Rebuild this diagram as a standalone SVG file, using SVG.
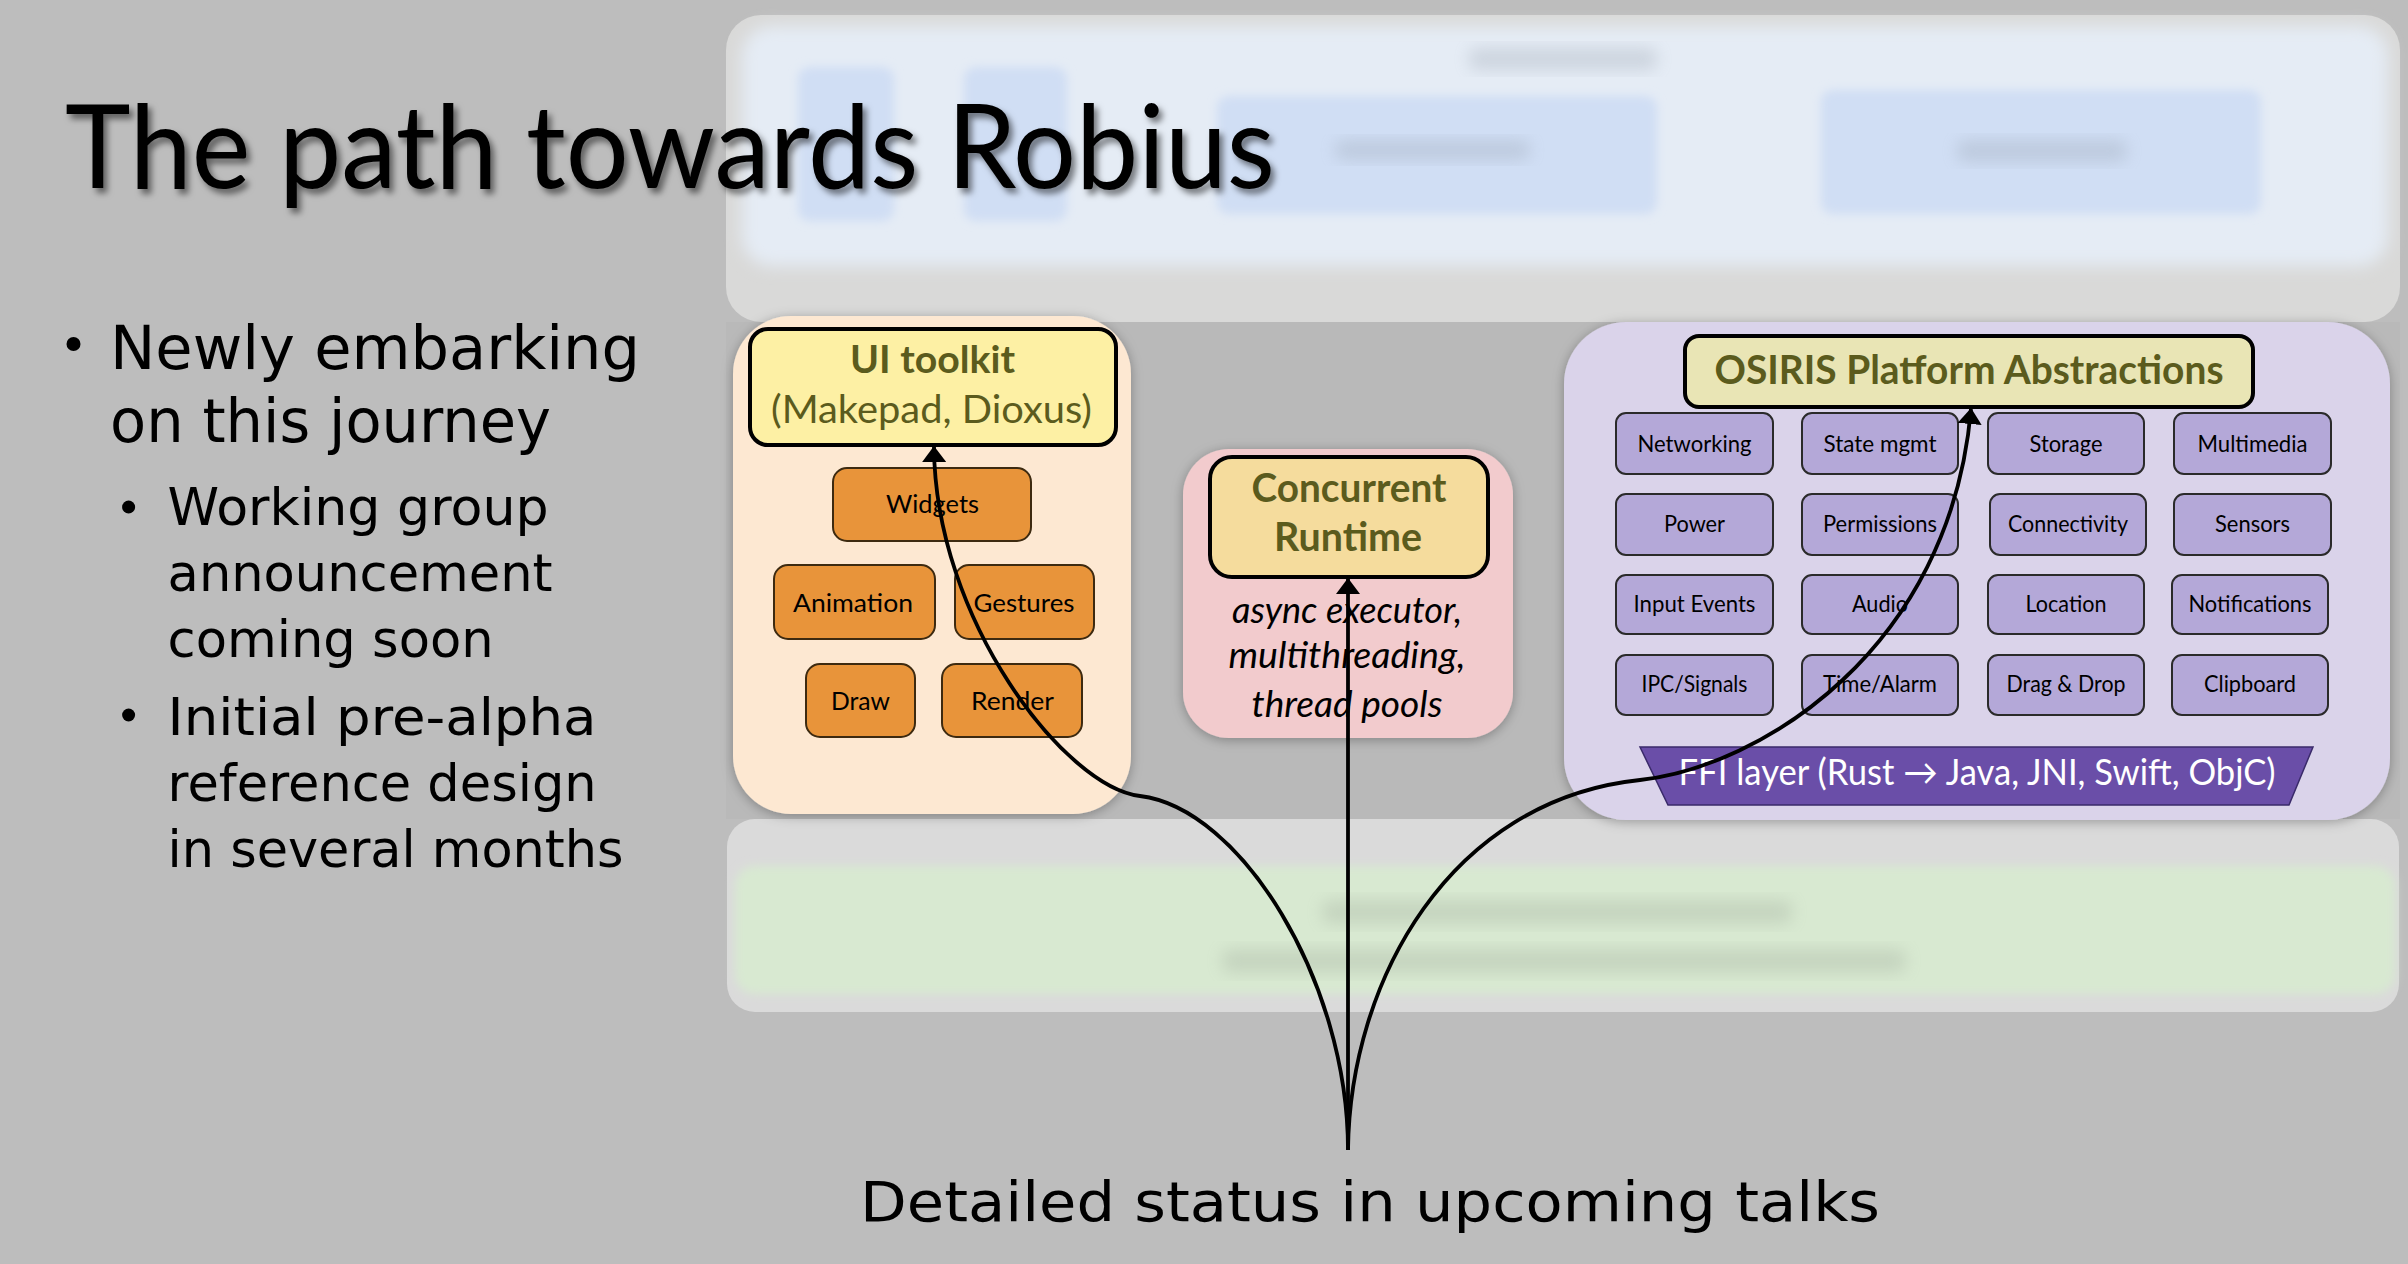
<svg xmlns="http://www.w3.org/2000/svg" width="2408" height="1264" viewBox="0 0 2408 1264">
<defs>
<style>
.title{font-family:Lato,"Liberation Sans",sans-serif;font-size:116px;fill:#000}
.bul{font-family:"DejaVu Sans","Liberation Sans",sans-serif;fill:#000}
.b1{font-size:60px}
.b2{font-size:51px}
.hdr{font-family:Lato,"Liberation Sans",sans-serif;font-weight:700;fill:#5b5b1d;text-anchor:middle}
.hdrn{font-family:Lato,"Liberation Sans",sans-serif;fill:#5b5b1d;text-anchor:middle}
.sub{font-family:Lato,"Liberation Sans",sans-serif;font-size:25px;fill:#000;text-anchor:middle}
.cell{font-family:Lato,"Liberation Sans",sans-serif;font-size:23px;fill:#000;text-anchor:middle}
.ital{font-family:Lato,"Liberation Sans",sans-serif;font-style:italic;font-size:37px;fill:#000;text-anchor:middle}
.ffi{font-family:Lato,"Liberation Sans",sans-serif;font-size:36px;fill:#fff;text-anchor:middle}
.orange{fill:#e8943a;stroke:#3d2a10;stroke-width:2}
.grid{fill:#b4a8d8;stroke:#2a2a2a;stroke-width:2}
.hbox{stroke:#000;stroke-width:4}
.conn{fill:none;stroke:#000;stroke-width:3.8;marker-end:url(#arrow)}
.blob{fill:#8e98a6;opacity:0.28}
</style>
<filter id="blur8" x="-10%" y="-30%" width="120%" height="160%"><feGaussianBlur stdDeviation="8"/></filter>
<filter id="blur5" x="-20%" y="-50%" width="140%" height="200%"><feGaussianBlur stdDeviation="5"/></filter>
<filter id="tshadow" x="-5%" y="-20%" width="110%" height="150%"><feDropShadow dx="4" dy="5" stdDeviation="3" flood-color="#000" flood-opacity="0.5"/></filter>
<filter id="cshadow" x="-10%" y="-10%" width="120%" height="120%"><feDropShadow dx="0" dy="2" stdDeviation="6" flood-color="#000" flood-opacity="0.3"/></filter>
<marker id="arrow" markerUnits="userSpaceOnUse" viewBox="0 0 16 24" refX="15" refY="12" markerWidth="16" markerHeight="24" orient="auto">
<path d="M0,0 L16,12 L0,24 z" fill="#000"/>
</marker>
</defs>

<rect x="0" y="0" width="2408" height="1264" fill="#bdbdbd"/>

<g id="backdrop">
<rect x="726" y="322" width="1674" height="497" fill="#b9b9b9"/>
<line x1="1348" y1="322" x2="1348" y2="449" stroke="#a6a6a6" stroke-width="14" filter="url(#blur5)"/>
<line x1="1131" y1="394" x2="1564" y2="394" stroke="#aeaeae" stroke-width="12" filter="url(#blur5)"/>
<line x1="1513" y1="593" x2="1564" y2="593" stroke="#a6a6a6" stroke-width="12" filter="url(#blur5)"/>
</g>

<g id="application-layer">
<rect x="726" y="15" width="1674" height="307" rx="35" fill="#d9d9d8"/>
<rect x="742" y="26" width="1646" height="240" rx="30" fill="#e5ecf5" filter="url(#blur8)"/>
<rect x="798" y="67" width="96" height="154" rx="12" fill="#d0def4" filter="url(#blur5)"/>
<rect x="964" y="67" width="103" height="154" rx="12" fill="#d0def4" filter="url(#blur5)"/>
<rect x="1217" y="96" width="440" height="118" rx="12" fill="#d0def4" filter="url(#blur5)"/>
<rect x="1821" y="90" width="440" height="124" rx="12" fill="#d0def4" filter="url(#blur5)"/>
<rect x="1469" y="48" width="188" height="22" rx="8" class="blob" filter="url(#blur8)"/>
<rect x="1335" y="140" width="195" height="20" rx="8" class="blob" filter="url(#blur8)"/>
<rect x="1957" y="140" width="170" height="22" rx="8" class="blob" filter="url(#blur8)"/>
</g>

<g id="hal-layer">
<rect x="727" y="819" width="1672" height="193" rx="28" fill="#dadada"/>
<rect x="735" y="866" width="1660" height="128" rx="20" fill="#d8e9d1" filter="url(#blur5)"/>
<rect x="1322" y="900" width="470" height="24" rx="8" fill="#8f9a8c" opacity="0.25" filter="url(#blur8)"/>
<rect x="1222" y="949" width="684" height="24" rx="8" fill="#8f9a8c" opacity="0.25" filter="url(#blur8)"/>
</g>

<g id="title">
<text x="65" y="188" class="title" textLength="1210" lengthAdjust="spacingAndGlyphs" filter="url(#tshadow)">The path towards Robius</text>
</g>

<g id="bullets">
<circle cx="73.5" cy="344" r="7" fill="#000"/>
<text x="110" y="369" class="bul b1" textLength="530" lengthAdjust="spacingAndGlyphs">Newly embarking</text>
<text x="110" y="442" class="bul b1" textLength="441" lengthAdjust="spacingAndGlyphs">on this journey</text>
<circle cx="128.6" cy="507" r="6.5" fill="#000"/>
<text x="167.6" y="525" class="bul b2" textLength="381" lengthAdjust="spacingAndGlyphs">Working group</text>
<text x="167.6" y="591" class="bul b2" textLength="385" lengthAdjust="spacingAndGlyphs">announcement</text>
<text x="167.6" y="657" class="bul b2" textLength="326" lengthAdjust="spacingAndGlyphs">coming soon</text>
<circle cx="128.6" cy="715" r="6.5" fill="#000"/>
<text x="167.6" y="735" class="bul b2" textLength="429" lengthAdjust="spacingAndGlyphs">Initial pre-alpha</text>
<text x="167.6" y="801" class="bul b2" textLength="429" lengthAdjust="spacingAndGlyphs">reference design</text>
<text x="167.6" y="867" class="bul b2" textLength="456" lengthAdjust="spacingAndGlyphs">in several months</text>
</g>

<g id="ui-toolkit">
<rect x="733" y="316" width="398" height="498" rx="58" fill="#fde8d2" filter="url(#cshadow)"/>
<rect x="750" y="329" width="366" height="116" rx="18" fill="#fdf0a4" class="hbox"/>
<text x="932.5" y="373" class="hdr" font-size="38" textLength="165" lengthAdjust="spacingAndGlyphs">UI toolkit</text>
<text x="931.5" y="423" class="hdrn" font-size="38" textLength="321" lengthAdjust="spacingAndGlyphs">(Makepad, Dioxus)</text>
<g id="widgets"><rect x="833" y="468" width="198" height="73" rx="14" class="orange"/><text x="932.5" y="513" class="sub" textLength="93" lengthAdjust="spacingAndGlyphs">Widgets</text></g>
<g id="animation"><rect x="774" y="565" width="161" height="74" rx="14" class="orange"/><text x="853" y="612" class="sub" textLength="120" lengthAdjust="spacingAndGlyphs">Animation</text></g>
<g id="gestures"><rect x="955" y="565" width="139" height="74" rx="14" class="orange"/><text x="1024" y="612" class="sub" textLength="101" lengthAdjust="spacingAndGlyphs">Gestures</text></g>
<g id="draw"><rect x="806" y="664" width="109" height="73" rx="14" class="orange"/><text x="860.5" y="710" class="sub" textLength="59" lengthAdjust="spacingAndGlyphs">Draw</text></g>
<g id="render"><rect x="942" y="664" width="140" height="73" rx="14" class="orange"/><text x="1012.5" y="710" class="sub" textLength="83" lengthAdjust="spacingAndGlyphs">Render</text></g>
</g>

<g id="concurrent-runtime">
<rect x="1183" y="449" width="330" height="289" rx="46" fill="#f2cbcd" filter="url(#cshadow)"/>
<rect x="1210" y="457" width="278" height="120" rx="22" fill="#f5dc9d" class="hbox"/>
<text x="1349" y="502" class="hdr" font-size="40" textLength="195" lengthAdjust="spacingAndGlyphs">Concurrent</text>
<text x="1348" y="551" class="hdr" font-size="40" textLength="148" lengthAdjust="spacingAndGlyphs">Runtime</text>
<text x="1347" y="623" class="ital" textLength="230" lengthAdjust="spacingAndGlyphs">async executor,</text>
<text x="1347" y="668" class="ital" textLength="237" lengthAdjust="spacingAndGlyphs">multithreading,</text>
<text x="1347" y="717" class="ital" textLength="191" lengthAdjust="spacingAndGlyphs">thread pools</text>
</g>

<g id="osiris">
<rect x="1564" y="322" width="826" height="498" rx="62" fill="#dad3ea" filter="url(#cshadow)"/>
<rect x="1685" y="336" width="568" height="71" rx="14" fill="#e9e5b5" class="hbox"/>
<text x="1969" y="384" class="hdr" font-size="40" textLength="509" lengthAdjust="spacingAndGlyphs">OSIRIS Platform Abstractions</text>
<g id="networking"><rect x="1616" y="413" width="157" height="61" rx="10" class="grid"/><text x="1694.5" y="452" class="cell" textLength="114" lengthAdjust="spacingAndGlyphs">Networking</text></g>
<g id="state-mgmt"><rect x="1802" y="413" width="156" height="61" rx="10" class="grid"/><text x="1880" y="452" class="cell" textLength="113" lengthAdjust="spacingAndGlyphs">State mgmt</text></g>
<g id="storage"><rect x="1988" y="413" width="156" height="61" rx="10" class="grid"/><text x="2066" y="452" class="cell" textLength="73" lengthAdjust="spacingAndGlyphs">Storage</text></g>
<g id="multimedia"><rect x="2174" y="413" width="157" height="61" rx="10" class="grid"/><text x="2252.5" y="452" class="cell" textLength="110" lengthAdjust="spacingAndGlyphs">Multimedia</text></g>
<g id="power"><rect x="1616" y="494" width="157" height="61" rx="10" class="grid"/><text x="1694.5" y="532" class="cell" textLength="61" lengthAdjust="spacingAndGlyphs">Power</text></g>
<g id="permissions"><rect x="1802" y="494" width="156" height="61" rx="10" class="grid"/><text x="1880" y="532" class="cell" textLength="114" lengthAdjust="spacingAndGlyphs">Permissions</text></g>
<g id="connectivity"><rect x="1990" y="494" width="156" height="61" rx="10" class="grid"/><text x="2068" y="532" class="cell" textLength="120" lengthAdjust="spacingAndGlyphs">Connectivity</text></g>
<g id="sensors"><rect x="2174" y="494" width="157" height="61" rx="10" class="grid"/><text x="2252.5" y="532" class="cell" textLength="75" lengthAdjust="spacingAndGlyphs">Sensors</text></g>
<g id="input-events"><rect x="1616" y="575" width="157" height="59" rx="10" class="grid"/><text x="1694.5" y="612" class="cell" textLength="122" lengthAdjust="spacingAndGlyphs">Input Events</text></g>
<g id="audio"><rect x="1802" y="575" width="156" height="59" rx="10" class="grid"/><text x="1880" y="612" class="cell" textLength="56" lengthAdjust="spacingAndGlyphs">Audio</text></g>
<g id="location"><rect x="1988" y="575" width="156" height="59" rx="10" class="grid"/><text x="2066" y="612" class="cell" textLength="81" lengthAdjust="spacingAndGlyphs">Location</text></g>
<g id="notifications"><rect x="2172" y="575" width="156" height="59" rx="10" class="grid"/><text x="2250" y="612" class="cell" textLength="123" lengthAdjust="spacingAndGlyphs">Notifications</text></g>
<g id="ipc-signals"><rect x="1616" y="655" width="157" height="60" rx="10" class="grid"/><text x="1694.5" y="692" class="cell" textLength="106" lengthAdjust="spacingAndGlyphs">IPC/Signals</text></g>
<g id="time-alarm"><rect x="1802" y="655" width="156" height="60" rx="10" class="grid"/><text x="1880" y="692" class="cell" textLength="114" lengthAdjust="spacingAndGlyphs">Time/Alarm</text></g>
<g id="drag-drop"><rect x="1988" y="655" width="156" height="60" rx="10" class="grid"/><text x="2066" y="692" class="cell" textLength="119" lengthAdjust="spacingAndGlyphs">Drag &amp; Drop</text></g>
<g id="clipboard"><rect x="2172" y="655" width="156" height="60" rx="10" class="grid"/><text x="2250" y="692" class="cell" textLength="92" lengthAdjust="spacingAndGlyphs">Clipboard</text></g>
<g id="ffi-layer">
<polygon points="1640,747 2313,747 2289,805 1668,805" fill="#6a4ea8" stroke="#3a2a6a" stroke-width="1.5"/>
<text x="1977" y="785" class="ffi" textLength="597" lengthAdjust="spacingAndGlyphs">FFI layer (Rust → Java, JNI, Swift, ObjC)</text>
</g>
</g>

<g id="connectors">
<path class="conn" d="M1348,1150 C1348,980 1240,808 1140,796 C1065,787 935,620 934,447"/>
<path class="conn" d="M1348,1150 L1348,579"/>
<path class="conn" d="M1348,1150 C1350,980 1450,800 1640,780 C1760,767 1950,650 1971,409"/>
</g>

<g id="footer">
<text x="860" y="1221" class="bul" font-size="56" textLength="1020" lengthAdjust="spacingAndGlyphs">Detailed status in upcoming talks</text>
</g>
</svg>
